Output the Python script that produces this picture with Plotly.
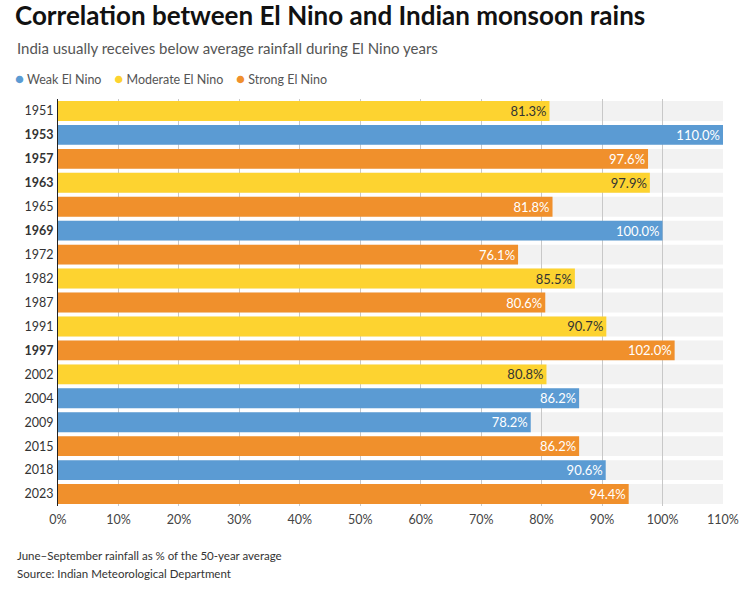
import plotly.graph_objects as go

years = ["1951","1953","1957","1963","1965","1969","1972","1982","1987","1991","1997","2002","2004","2009","2015","2018","2023"]
values = [81.3,110.0,97.6,97.9,81.8,100.0,76.1,85.5,80.6,90.7,102.0,80.8,86.2,78.2,86.2,90.6,94.4]
intensity = ["Moderate","Weak","Strong","Moderate","Strong","Weak","Strong","Moderate","Strong","Moderate","Strong","Moderate","Weak","Weak","Strong","Weak","Strong"]
bold_years = ["1953","1957","1963","1969","1997"]
x_ticks = [0,10,20,30,40,50,60,70,80,90,100,110]
x_max = 110

colors = {"Weak": "#5b9bd3", "Moderate": "#fdd330", "Strong": "#f0902c"}
text_colors = {"Weak": "white", "Moderate": "#333333", "Strong": "white"}
labels = {"Weak": "Weak El Nino", "Moderate": "Moderate El Nino", "Strong": "Strong El Nino"}

FONT = "Lato, 'Source Sans Pro', sans-serif"
bar_width = 0.83

fig = go.Figure()
for k in ["Weak", "Moderate", "Strong"]:
    ys = [y for y, c in zip(years, intensity) if c == k]
    xs = [v for v, c in zip(values, intensity) if c == k]
    fig.add_trace(go.Bar(
        y=ys, x=xs, orientation="h", name=labels[k],
        marker=dict(color=colors[k], line=dict(width=0)),
        width=bar_width,
        text=[f"{v:.1f}%" for v in xs], textposition="inside",
        insidetextanchor="end", constraintext="none",
        textfont=dict(color=text_colors[k], size=13, family=FONT),
        showlegend=False, hoverinfo="skip", cliponaxis=False,
    ))

# gray row bands behind gridlines
shapes = []
for i, y in enumerate(years):
    shapes.append(dict(type="rect", xref="x", yref="y", layer="below",
                       x0=0, x1=x_max, y0=i - bar_width / 2, y1=i + bar_width / 2,
                       fillcolor="#f2f2f2", line=dict(width=0)))

ticktext = [f"<b>{y}</b>" if y in bold_years else y for y in years]

legend_html = "&nbsp;&nbsp;&nbsp;&nbsp;".join(
    f"<span style='color:{colors[k]};font-size:15px'>●</span>&nbsp;{labels[k]}" for k in ["Weak", "Moderate", "Strong"]
)

PW = 746 - 58 - 22.5
PH = 594 - 99 - 88
fig.update_layout(
    width=746, height=594,
    margin=dict(l=58, r=22.5, t=99, b=88),
    paper_bgcolor="white", plot_bgcolor="white",
    barmode="overlay",
    font=dict(family=FONT, color="#333333", size=12),
    shapes=shapes,
    xaxis=dict(range=[0, x_max], tickvals=x_ticks, ticktext=[f"{t}%" for t in x_ticks],
               showgrid=True, gridcolor="#c8c8c8", gridwidth=1, zeroline=False,
               showline=False, ticks="", ticklabelstandoff=4,
               tickfont=dict(size=12.5, color="#444444"),
               automargin=False, fixedrange=True),
    yaxis=dict(categoryorder="array", categoryarray=years, autorange="reversed",
               tickvals=years, ticktext=ticktext, showgrid=False, showline=True,
               linecolor="#222222", linewidth=1, ticks="", ticklabelstandoff=1,
               automargin=False, tickfont=dict(size=12.5, color="#333333")),
    annotations=[
        dict(text="<b>Correlation between El Nino and Indian monsoon rains</b>",
             xref="paper", yref="paper", x=-58/PW, y=1 + (99 - 15) / PH,
             xanchor="left", yanchor="middle", showarrow=False, xshift=13,
             font=dict(size=26, color="#111111", family=FONT)),
        dict(text="India usually receives below average rainfall during El Nino years",
             xref="paper", yref="paper", x=-58/PW, y=1 + (99 - 48) / PH,
             xanchor="left", yanchor="middle", showarrow=False, xshift=15,
             font=dict(size=15, color="#555555", family=FONT)),
        dict(text=legend_html,
             xref="paper", yref="paper", x=-58/PW, y=1 + (99 - 78) / PH,
             xanchor="left", yanchor="middle", showarrow=False, xshift=13,
             font=dict(size=12.5, color="#555555", family=FONT)),
        dict(text="June–September rainfall as % of the 50-year average",
             xref="paper", yref="paper", x=-58/PW, y=-(555 - 506) / PH,
             xanchor="left", yanchor="middle", showarrow=False, xshift=15,
             font=dict(size=11.5, color="#333333", family=FONT)),
        dict(text="Source: Indian Meteorological Department",
             xref="paper", yref="paper", x=-58/PW, y=-(573 - 506) / PH,
             xanchor="left", yanchor="middle", showarrow=False, xshift=15,
             font=dict(size=11.5, color="#333333", family=FONT)),
    ],
)

fig.write_html("out.html")
